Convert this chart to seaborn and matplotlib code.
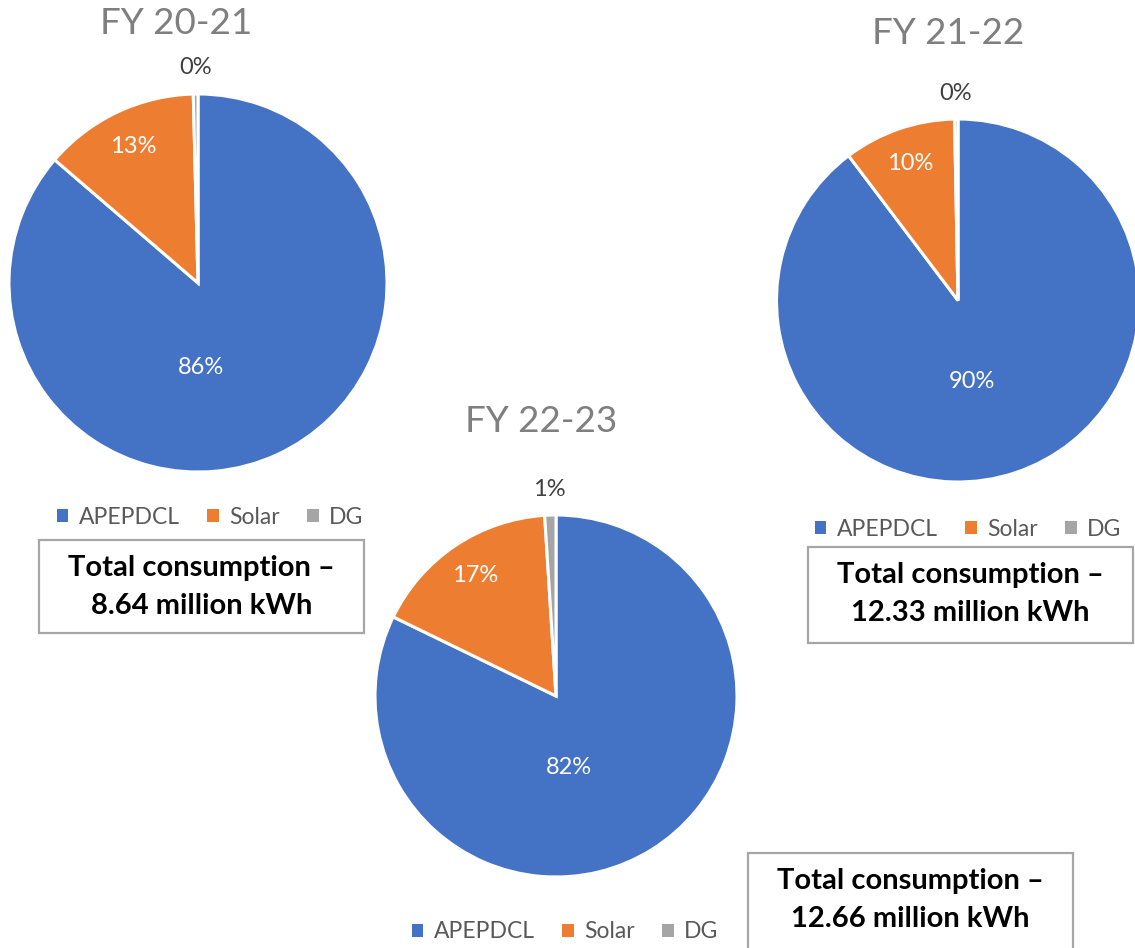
import matplotlib
matplotlib.use("Agg")
import matplotlib.pyplot as plt
import seaborn as sns
import numpy as np
from matplotlib.patches import Patch, Rectangle

# ---------------- data ----------------
categories = ["APEPDCL", "Solar", "DG"]
years = ["FY 20-21", "FY 21-22", "FY 22-23"]
share_fy2021 = [86.3, 13.3, 0.4]
share_fy2122 = [89.7, 10.0, 0.3]
share_fy2223 = [82.2, 16.8, 1.0]
total_consumption = ["8.64", "12.33", "12.66"]

# ---------------- style ----------------
sns.set_theme(style="white")
plt.rcParams['font.family'] = ['Lato', 'DejaVu Sans']
colors = ["#4472C4", "#ED7D31", "#A5A5A5"]

W, H = 1135, 948
fig = plt.figure(figsize=(W / 100, H / 100), dpi=100)


def fx(x):
    return x / W


def fy(y):
    return 1 - y / H


layout = [
    dict(center=(198, 283), r=189, title=(176, 24), legend=(210, 517),
         box=(39, 540, 325, 93), big=(-88, 0.45)),
    dict(center=(958, 300.5), r=181.5, title=(948, 34), legend=(968, 529),
         box=(808, 547, 325, 96), big=(-80, 0.455)),
    dict(center=(556, 696), r=181, title=(541, 422), legend=(565, 932),
         box=(748, 853, 325, 110), big=(-80, 0.40)),
]
shares = [share_fy2021, share_fy2122, share_fy2223]

for year, vals, total, lay in zip(years, shares, total_consumption, layout):
    cx, cy = lay["center"]
    r = lay["r"]
    ax = fig.add_axes([fx(cx - r), fy(cy + r), 2 * r / W, 2 * r / H])
    wedges, _ = ax.pie(vals, colors=colors, startangle=90, counterclock=False,
                       wedgeprops=dict(edgecolor="white", linewidth=2.2))
    ax.set_xlim(-1, 1)
    ax.set_ylim(-1, 1)
    ax.set_aspect("equal")
    ax.axis("off")
    for i, (w, v) in enumerate(zip(wedges, vals)):
        lab = f"{v:.0f}%"
        if i == 0:
            ang, d = lay["big"]
            col = "white"
        elif i == 1:
            ang = (w.theta1 + w.theta2) / 2
            d = 0.8
            col = "white"
        else:
            ang = (w.theta1 + w.theta2) / 2
            d = 1.14
            col = "#404040"
        a = np.deg2rad(ang)
        ax.text(d * np.cos(a), d * np.sin(a), lab, ha="center", va="center",
                fontsize=17, color=col)

    # title
    tx, ty = lay["title"]
    fig.text(fx(tx), fy(ty), year, ha="center", va="center", fontsize=26.5,
             color="#7F7F7F")

    # legend
    lx, ly = lay["legend"]
    handles = [Patch(facecolor=c, edgecolor="none", label=n)
               for c, n in zip(colors, categories)]
    fig.legend(handles=handles, loc="center", bbox_to_anchor=(fx(lx), fy(ly)),
               ncol=3, frameon=False, fontsize=16.5, handlelength=0.5,
               handleheight=0.5, handletextpad=0.45, columnspacing=1.2,
               labelcolor="#595959")

    # total box
    bx, by, bw, bh = lay["box"]
    rect = Rectangle((fx(bx), fy(by + bh)), bw / W, bh / H,
                     transform=fig.transFigure, facecolor="white",
                     edgecolor="#A6A6A6", linewidth=1.6)
    fig.add_artist(rect)
    fig.text(fx(bx + bw / 2), fy(by + 28), "Total consumption –", ha="center",
             va="center", fontsize=21, fontweight="bold", color="black")
    fig.text(fx(bx + bw / 2), fy(by + 66), f"{total} million kWh", ha="center",
             va="center", fontsize=21, fontweight="bold", color="black")

fig.savefig("out.png", dpi=100, facecolor="white")
